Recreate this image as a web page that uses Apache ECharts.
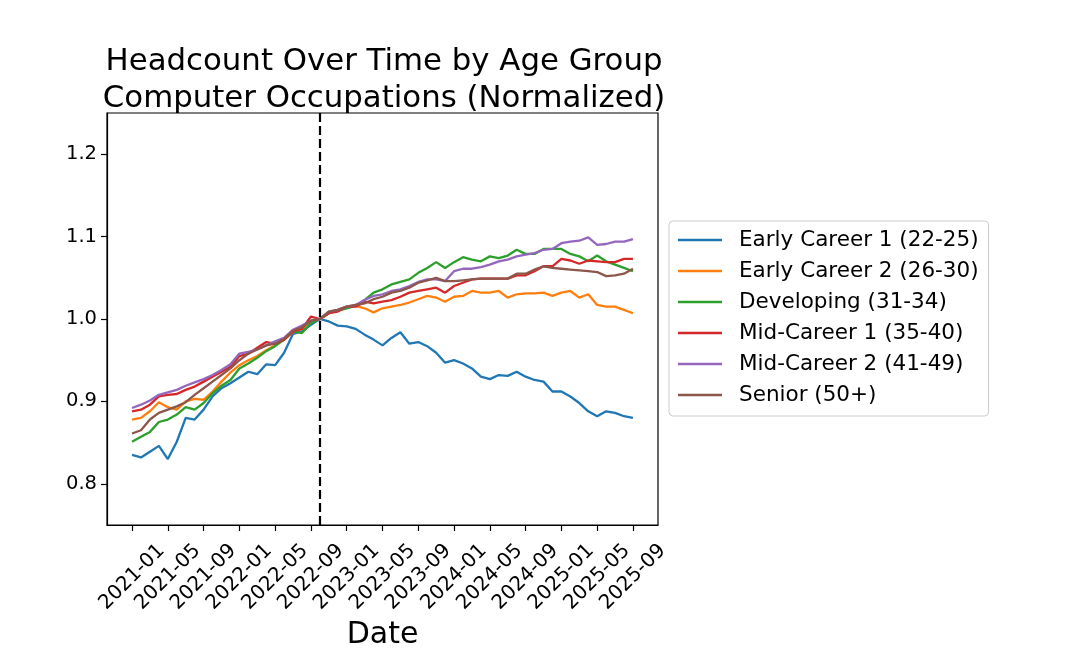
<!DOCTYPE html>
<html>
<head>
<meta charset="utf-8">
<script src="https://cdn.jsdelivr.net/npm/echarts@6/dist/echarts.min.js"></script>
<style>
html,body{margin:0;padding:0;background:#fff;}
#chart{width:1080px;height:662px;}
</style>
</head>
<body>
<div id="chart"></div>
<script>
// Monthly observations 2021-01 .. 2025-09 (57 months)
const months = [
 '2021-01','2021-02','2021-03','2021-04','2021-05','2021-06','2021-07','2021-08','2021-09','2021-10','2021-11','2021-12',
 '2022-01','2022-02','2022-03','2022-04','2022-05','2022-06','2022-07','2022-08','2022-09','2022-10','2022-11','2022-12',
 '2023-01','2023-02','2023-03','2023-04','2023-05','2023-06','2023-07','2023-08','2023-09','2023-10','2023-11','2023-12',
 '2024-01','2024-02','2024-03','2024-04','2024-05','2024-06','2024-07','2024-08','2024-09','2024-10','2024-11','2024-12',
 '2025-01','2025-02','2025-03','2025-04','2025-05','2025-06','2025-07','2025-08','2025-09'
];
const tickLabels = ['2021-01','2021-05','2021-09','2022-01','2022-05','2022-09','2023-01','2023-05','2023-09','2024-01','2024-05','2024-09','2025-01','2025-05','2025-09'];
const yTicks = [0.8, 0.9, 1.0, 1.1, 1.2];
const referenceMonth = '2022-10';

const seriesNames = ['Early Career 1 (22-25)','Early Career 2 (26-30)','Developing (31-34)','Mid-Career 1 (35-40)','Mid-Career 2 (41-49)','Senior (50+)'];

const earlyCareer1 = [0.835,0.832,0.839,0.846,0.830,0.851,0.880,0.878,0.890,0.906,0.916,0.922,
 0.929,0.936,0.933,0.945,0.944,0.959,0.982,0.985,0.993,1.000,0.997,0.992,
 0.991,0.988,0.981,0.975,0.968,0.977,0.984,0.970,0.972,0.967,0.959,0.947,
 0.950,0.946,0.940,0.930,0.927,0.932,0.931,0.936,0.930,0.926,0.924,0.912,
 0.912,0.906,0.898,0.888,0.882,0.888,0.886,0.882,0.880];
const earlyCareer2 = [0.878,0.880,0.888,0.899,0.893,0.890,0.900,0.903,0.902,0.912,0.924,0.935,
 0.944,0.950,0.955,0.962,0.968,0.975,0.984,0.988,0.997,1.000,1.007,1.011,
 1.015,1.016,1.013,1.008,1.013,1.015,1.017,1.020,1.024,1.028,1.026,1.021,
 1.027,1.028,1.034,1.032,1.032,1.034,1.026,1.030,1.031,1.031,1.032,1.028,
 1.032,1.034,1.026,1.030,1.017,1.015,1.015,1.011,1.007];
const developing = [0.851,0.857,0.863,0.875,0.878,0.884,0.893,0.890,0.898,0.910,0.919,0.926,
 0.940,0.946,0.953,0.961,0.967,0.975,0.985,0.983,0.995,1.000,1.007,1.010,
 1.013,1.016,1.023,1.032,1.036,1.042,1.045,1.048,1.056,1.062,1.069,1.062,
 1.069,1.075,1.072,1.070,1.076,1.074,1.077,1.084,1.079,1.079,1.085,1.085,
 1.085,1.079,1.076,1.070,1.077,1.070,1.066,1.062,1.058];
const midCareer1 = [0.888,0.890,0.896,0.906,0.908,0.909,0.914,0.918,0.924,0.930,0.936,0.942,
 0.955,0.958,0.965,0.972,0.970,0.975,0.985,0.988,1.003,1.000,1.007,1.009,
 1.015,1.015,1.021,1.019,1.021,1.023,1.027,1.032,1.034,1.036,1.038,1.032,
 1.040,1.044,1.048,1.049,1.049,1.049,1.049,1.053,1.053,1.058,1.064,1.064,
 1.073,1.071,1.067,1.071,1.070,1.069,1.069,1.073,1.073];
const midCareer2 = [0.892,0.896,0.901,0.908,0.911,0.914,0.919,0.923,0.927,0.932,0.938,0.945,
 0.958,0.960,0.963,0.968,0.973,0.977,0.987,0.992,0.998,1.000,1.009,1.011,
 1.015,1.017,1.023,1.028,1.030,1.034,1.036,1.040,1.045,1.048,1.048,1.046,
 1.058,1.061,1.061,1.063,1.066,1.070,1.072,1.076,1.078,1.080,1.084,1.085,
 1.092,1.094,1.095,1.099,1.090,1.091,1.094,1.094,1.097];
const senior = [0.861,0.865,0.878,0.886,0.890,0.894,0.899,0.908,0.916,0.924,0.932,0.940,
 0.950,0.958,0.963,0.968,0.970,0.976,0.986,0.990,0.998,1.000,1.009,1.011,
 1.015,1.017,1.019,1.024,1.027,1.032,1.034,1.038,1.044,1.047,1.050,1.046,
 1.046,1.047,1.048,1.049,1.049,1.049,1.049,1.055,1.055,1.060,1.064,1.062,
 1.061,1.060,1.059,1.058,1.057,1.052,1.053,1.055,1.061];

const seriesValues = [earlyCareer1, earlyCareer2, developing, midCareer1, midCareer2, senior];
const colors = ['#1f77b4','#ff7f0e','#2ca02c','#d62728','#9467bd','#8c564b'];

const monthIndex = m => months.indexOf(m);
const tickPositions = tickLabels.map(monthIndex);

const FONT = 'DejaVu Sans';
const chart = echarts.init(document.getElementById('chart'), null, {renderer: 'canvas'});

const series = seriesNames.map((name, k) => ({
  name: name,
  type: 'line',
  data: seriesValues[k].map((v, i) => [i, v]),
  symbol: 'none',
  showSymbol: false,
  smooth: false,
  lineStyle: {width: 2.3, color: colors[k]},
  itemStyle: {color: colors[k]},
  emphasis: {disabled: true},
  z: 2 + k
}));
series[0].markLine = {
  silent: true,
  symbol: ['none','none'],
  label: {show: false},
  lineStyle: {color: '#000', type: [9, 4], width: 2.2},
  data: [{xAxis: monthIndex(referenceMonth)}],
  z: 10
};

chart.setOption({
  animation: false,
  backgroundColor: '#fff',
  textStyle: {fontFamily: FONT},
  title: {
    text: 'Headcount Over Time by Age Group\nComputer Occupations (Normalized)',
    left: 379,
    top: 38,
    textAlign: 'center',
    textStyle: {fontFamily: FONT, fontSize: 30.8, fontWeight: 'normal', color: '#000', lineHeight: 37}
  },
  grid: {left: 107, right: 422, top: 113, bottom: 137, show: true, borderColor: '#000', borderWidth: 1.2, backgroundColor: 'transparent'},
  legend: {
    orient: 'vertical',
    left: 669,
    top: 221,
    padding: [8, 10, 10, 9],
    itemGap: 9,
    itemWidth: 44,
    itemHeight: 2.4,
    icon: 'rect',
    borderColor: '#cccccc',
    borderWidth: 1,
    borderRadius: 4,
    backgroundColor: '#fff',
    textStyle: {fontFamily: FONT, fontSize: 21.5, color: '#000', lineHeight: 22, padding: [0, 0, 0, 12]},
    data: seriesNames.map((n, k) => ({name: n, icon: 'rect', itemStyle: {color: colors[k]}}))
  },
  xAxis: {
    type: 'value',
    min: -2.8,
    max: 58.8,
    name: 'Date',
    nameLocation: 'middle',
    nameGap: 95,
    nameTextStyle: {fontFamily: FONT, fontSize: 30, color: '#000'},
    splitLine: {show: false},
    axisLine: {show: true, onZero: false, lineStyle: {color: '#000', width: 1.2}},
    axisTick: {show: true, length: 6, customValues: tickPositions, lineStyle: {color: '#000', width: 1.2}},
    axisLabel: {
      customValues: tickPositions,
      rotate: 45,
      align: 'center',
      verticalAlign: 'middle',
      margin: 52,
      fontFamily: FONT, fontSize: 20, color: '#000',
      formatter: v => months[Math.round(v)] || ''
    }
  },
  yAxis: {
    type: 'value',
    min: 0.75,
    max: 1.25,
    splitLine: {show: false},
    axisLine: {show: true, onZero: false, lineStyle: {color: '#000', width: 1.2}},
    axisTick: {show: true, length: 6, customValues: yTicks, lineStyle: {color: '#000', width: 1.2}},
    axisLabel: {
      customValues: yTicks,
      margin: 10,
      fontFamily: FONT, fontSize: 19.5, color: '#000',
      formatter: v => v.toFixed(1)
    }
  },
  series: series
});
</script>
</body>
</html>
